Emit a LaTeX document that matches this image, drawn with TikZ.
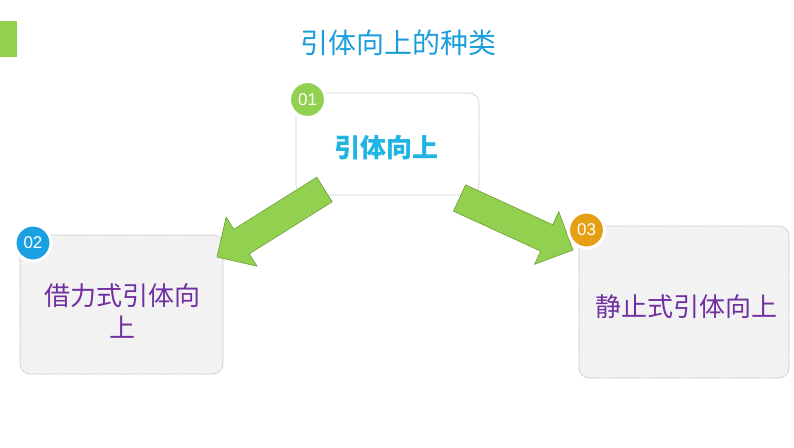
\documentclass[tikz,border=0pt]{standalone}
\usepackage{fontspec}
\setmainfont{Liberation Sans}
\newfontfamily\cjk{Noto Sans CJK SC}
\usetikzlibrary{calc}

\definecolor{leafgreen}{HTML}{92D050}
\definecolor{leafdark}{HTML}{6E9E35}
\definecolor{skyblue}{HTML}{1BA1E2}
\definecolor{titleblue}{HTML}{1A9DDB}
\definecolor{lightcyan}{HTML}{1FB5E3}
\definecolor{amber}{HTML}{E59F14}
\definecolor{plum}{HTML}{7030A0}
\definecolor{panelgray}{HTML}{F2F2F2}

\tikzset{
  panel/.style={draw=black!30, line width=0.6pt, dash pattern=on 1.5pt off 1pt,
    rounded corners=10pt, inner sep=0pt},
  badge/.style={circle, draw=white, line width=3pt, minimum size=36pt, inner sep=0pt,
    text=white, font=\fontsize{17}{17}\selectfont},
  kind/.style={font=\cjk\fontsize{26}{32}\selectfont, text=plum, align=center},
  bigarrow/.style={fill=leafgreen, draw=leafdark, line width=0.6pt, line join=miter}
}

\begin{document}
\begin{tikzpicture}[x=1pt, y=-1pt]
		\useasboundingbox (0,0) rectangle (794,447);
		\fill[leafgreen] (0,21) rectangle (17,57);
		\node[font=\cjk\fontsize{28}{28}\selectfont, text=titleblue] (title) at (398,43) {引体向上的种类};

		% the three boxes
		\node[panel, fill=white, minimum width=183pt, minimum height=102pt] (box-1) at (387.5,144) {};
		\node[panel, fill=panelgray, minimum width=203pt, minimum height=139pt] (box-2) at (121.5,304.5) {};
		\node[panel, fill=panelgray, minimum width=210pt, minimum height=152pt] (box-3) at (684,302) {};

		\node[font=\cjk\bfseries\fontsize{26}{26}\selectfont, text=lightcyan] (text-1) at (386,148) {引体向上};
		\node[kind] (text-2) at (122,311) {借力式引体向\\上};
		\node[kind] (text-3) at (686,307) {静止式引体向上};

		% arrows from box 1
		\coordinate (tail-2) at (324.5,189.5);
		\coordinate (tip-2) at (217,257);
		\coordinate (tail-3) at (459.5,198);
		\coordinate (tip-3) at (573,250);
		\foreach \k in {2,3}
			\draw[bigarrow] ($(tail-\k)!14.5pt!90:(tip-\k)$)
				-- ($(tip-\k)!29pt!(tail-\k)!14.5pt!90:(tip-\k)$)
				-- ($(tip-\k)!29pt!(tail-\k)!29pt!90:(tip-\k)$)
				-- (tip-\k)
				-- ($(tip-\k)!29pt!(tail-\k)!29pt!-90:(tip-\k)$)
				-- ($(tip-\k)!29pt!(tail-\k)!14.5pt!-90:(tip-\k)$)
				-- ($(tail-\k)!14.5pt!-90:(tip-\k)$)
				-- cycle;

		\node[badge, fill=leafgreen] (badge-1) at (307.5,99.5) {01};
		\node[badge, fill=skyblue] (badge-2) at (33,243) {02};
		\node[badge, fill=amber] (badge-3) at (586.5,230) {03};
	\end{tikzpicture}
\end{document}
